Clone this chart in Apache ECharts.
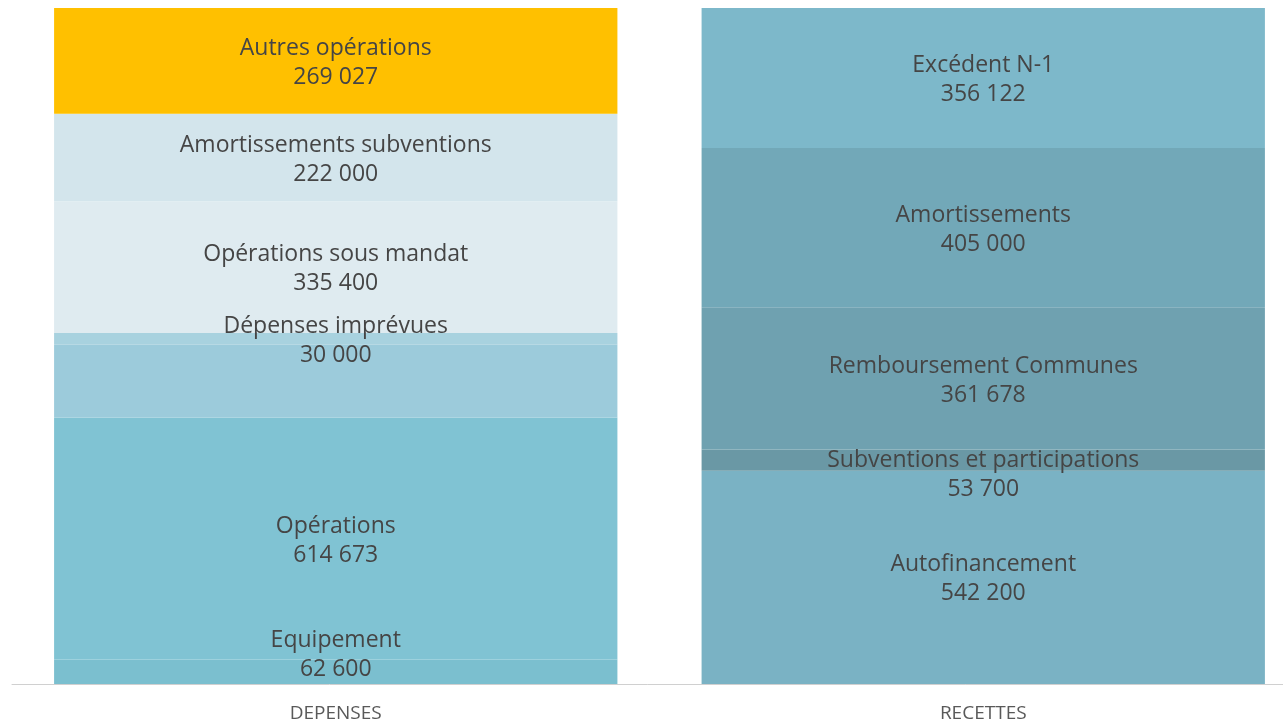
<!DOCTYPE html>
<html>
<head>
<meta charset="utf-8">
<script src="https://cdn.jsdelivr.net/npm/echarts@6/dist/echarts.min.js"></script>
<style>
  html, body { margin: 0; padding: 0; background: #fff; }
  #chart { width: 1283px; height: 727px; }
</style>
</head>
<body>
<div id="chart"></div>
<script>
// categories (x axis)
var categories = ['DEPENSES', 'RECETTES']

// dépenses, du bas vers le haut (null = segment sans étiquette)
var depNames = ['Equipement', 'Opérations', null, 'Dépenses imprévues', 'Opérations sous mandat', 'Amortissements subventions', 'Autres opérations']
var depValues = [62600, 614673, 185000, 30000, 335400, 222000, 269027]
var depColors = ['#7bbfcf', '#80c3d3', '#9ccbdb', '#a8d2df', '#dfebf0', '#d3e5ec', '#ffc000']

// recettes, du bas vers le haut
var recNames = ['Autofinancement', 'Subventions et participations', 'Remboursement Communes', 'Amortissements', 'Excédent N-1']
var recValues = [542200, 53700, 361678, 405000, 356122]
var recColors = ['#7ab2c4', '#6a98a5', '#6fa1b0', '#72a8b8', '#7db8ca']

var myChart = echarts.init(document.getElementById('chart'))

// 269027 -> "269 027"
function fmt(v) {
  return String(v).replace(/\B(?=(\d{3})+(?!\d))/g, ' ')
}

// décalages d'étiquettes (Excel repousse certaines étiquettes)
var labelOffsets = {
  'Equipement': [0, -19],
  'Subventions et participations': [0, 13]
}

var textFont = "'Open Sans', sans-serif"

function makeSeries(name, value, color, catIndex) {
  var data = ['-', '-']
  data[catIndex] = value
  var off = labelOffsets[name] || [0, 0]
  return {
    name: name || 'sans étiquette',
    type: 'bar',
    stack: 'total',
    barCategoryGap: '13%',
    data: data,
    itemStyle: { color: color },
    label: {
      show: !!name,
      position: 'inside',
      offset: [off[0], off[1] + 2],
      color: '#454545',
      fontSize: 23,
      lineHeight: 29,
      fontFamily: textFont,
      formatter: function (p) {
        return name + '\n' + fmt(p.value)
      }
    },
    emphasis: { disabled: true },
    z: 2
  }
}

var series = []
depValues.forEach(function (v, i) {
  series.push(makeSeries(depNames[i], v, depColors[i], 0))
})
recValues.forEach(function (v, i) {
  series.push(makeSeries(recNames[i], v, recColors[i], 1))
})

var total = recValues.reduce(function (a, b) { return a + b }, 0)

var option = {
  animation: false,
  grid: {
    left: 12,
    width: 1295,
    top: 8,
    bottom: 43,
    outerBoundsMode: 'none'
  },
  xAxis: {
    type: 'category',
    data: categories,
    axisLine: { lineStyle: { color: '#d0d0d0', width: 1 } },
    axisTick: { show: false },
    axisLabel: {
      color: '#595959',
      fontSize: 19,
      margin: 20,
      fontFamily: textFont
    }
  },
  yAxis: {
    type: 'value',
    min: 0,
    max: total,
    show: false,
    splitLine: { show: false }
  },
  series: series
}

myChart.setOption(option)
</script>
</body>
</html>
